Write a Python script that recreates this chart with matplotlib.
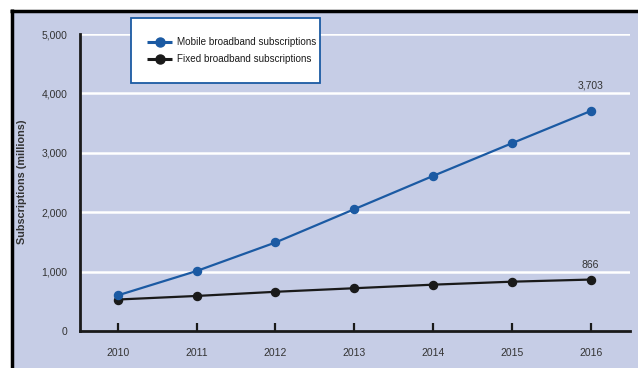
import matplotlib
matplotlib.use("Agg")
import matplotlib.pyplot as plt
from matplotlib.lines import Line2D
from matplotlib.patches import Rectangle

years = [2010, 2011, 2012, 2013, 2014, 2015, 2016]
mobile = [600, 1010, 1490, 2050, 2610, 3160, 3703]
fixed = [530, 590, 660, 720, 780, 830, 866]
yticks = [0, 1000, 2000, 3000, 4000, 5000]
ytick_labels = ["0", "1,000", "2,000", "3,000", "4,000", "5,000"]
series_names = ["Mobile broadband subscriptions", "Fixed broadband subscriptions"]
end_labels = ["3,703", "866"]

plt.rcParams['font.family'] = ['Liberation Sans Narrow', 'Liberation Sans', 'DejaVu Sans']

BG = "#c6cde6"
BLUE = "#1b5aa3"
BLACK = "#1a1a1a"
TXT = "#333333"

fig = plt.figure(figsize=(6.38, 3.68), dpi=100)
fig.patch.set_facecolor("white")
# lavender panel and black frame (pixel coordinates)
bgax = fig.add_axes([0, 0, 1, 1], zorder=-5)
bgax.set_axis_off()
bgax.set_xlim(0, 638)
bgax.set_ylim(368, 0)
bgax.add_patch(Rectangle((11, 11), 640, 360, facecolor=BG, edgecolor="none"))
bgax.plot([10, 640], [10.5, 10.5], color="black", lw=2.5, solid_capstyle="butt")
bgax.plot([11.5, 11.5], [9.3, 370], color="black", lw=2.5, solid_capstyle="butt")

ax = fig.add_axes([80/638, 1 - 331/368, (630 - 80)/638, (331 - 34)/368])
ax.patch.set_alpha(0)
ax.set_xlim(2009.52, 2016.5)
ax.set_ylim(0, 5000)

for v in yticks[1:]:
    ax.axhline(v, color="white", lw=1.8, zorder=1)

ax.plot(years, fixed, color=BLACK, lw=1.6, marker="o", ms=5.8, zorder=3,
        label=series_names[1])
ax.plot(years, mobile, color=BLUE, lw=1.6, marker="o", ms=5.8, zorder=4,
        label=series_names[0])

ax.annotate(end_labels[0], (years[-1], mobile[-1]), xytext=(0, 15), textcoords="offset points",
            ha="center", va="bottom", fontsize=7.5, color=TXT)
ax.annotate(end_labels[1], (years[-1], fixed[-1]), xytext=(0, 7), textcoords="offset points",
            ha="center", va="bottom", fontsize=7.5, color=TXT)

for s in ["top", "right"]:
    ax.spines[s].set_visible(False)
ax.spines["left"].set_color(BLACK)
ax.spines["left"].set_linewidth(2)
ax.spines["bottom"].set_color(BLACK)
ax.spines["bottom"].set_linewidth(2)

ax.set_xticks(years)
ax.set_xticklabels([str(y) for y in years])
ax.set_yticks(yticks)
ax.set_yticklabels(ytick_labels)
ax.tick_params(axis="x", direction="in", length=6, width=1.6, color=BLACK,
               labelsize=7.5, labelcolor=TXT, pad=12)
ax.tick_params(axis="y", length=0, labelsize=7.5, labelcolor=TXT, pad=9)

fig.text(22/638, 1 - 182/368, "Subscriptions (millions)", rotation=90, ha="center",
         va="center", fontsize=7.8, color=TXT, fontweight="bold")

# legend box drawn on the overlay axes (pixel coordinates)
legax = fig.add_axes([0, 0, 1, 1], zorder=10)
legax.set_axis_off()
legax.patch.set_alpha(0)
legax.set_xlim(0, 638)
legax.set_ylim(368, 0)
legax.add_patch(Rectangle((131, 18), 189, 65, facecolor="white", edgecolor=BLUE, lw=1.3))
for (name, col, yy) in [(series_names[0], BLUE, 42), (series_names[1], BLACK, 59)]:
    legax.plot([147, 172], [yy, yy], color=col, lw=2.2, solid_capstyle="butt")
    legax.plot([159.5], [yy], marker="o", ms=6.5, color=col)
    legax.text(177, yy, name, fontsize=7.1, color=BLACK, ha="left", va="center")

fig.savefig("out.png", dpi=100)
